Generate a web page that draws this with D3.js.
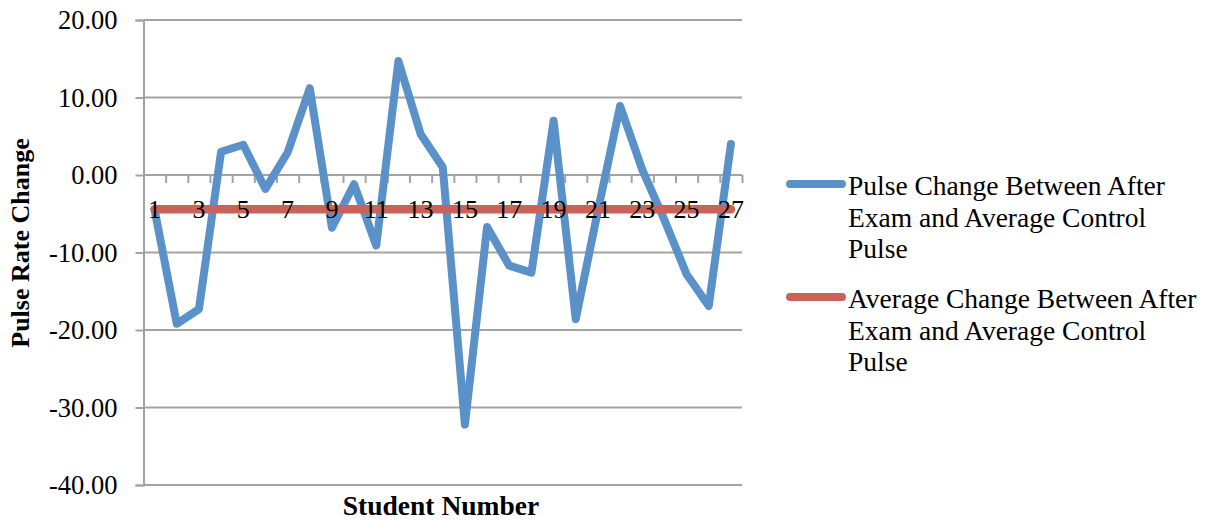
<!DOCTYPE html>
<html>
<head>
<meta charset="utf-8">
<script src="https://cdn.jsdelivr.net/npm/d3@7"></script>
<style>
  html, body { margin: 0; padding: 0; background: #fff; }
  svg { display: block; }
  text { font-family: "Liberation Serif", "DejaVu Serif", serif; fill: #000; }
</style>
</head>
<body>
<svg id="chart" width="1212" height="521"></svg>
<script>
// ---- data ----
const students = [1,2,3,4,5,6,7,8,9,10,11,12,13,14,15,16,17,18,19,20,21,22,23,24,25,26,27];
const pulseChange = [-4.5, -19.2, -17.3, 3.0, 3.9, -1.8, 2.9, 11.2, -6.8, -1.2, -9.1, 14.7, 5.3, 1.0,
                     -32.2, -6.7, -11.7, -12.6, 7.0, -18.6, -4.6, 8.9, 0.7, -5.8, -12.8, -16.9, 4.0];
const averageChange = [-4.42, -4.42, -4.42, -4.42, -4.42, -4.42, -4.42, -4.42, -4.42, -4.42, -4.42, -4.42, -4.42, -4.42,
                       -4.42, -4.42, -4.42, -4.42, -4.42, -4.42, -4.42, -4.42, -4.42, -4.42, -4.42, -4.42, -4.42];
const yTicks = [-40, -30, -20, -10, 0, 10, 20];
const xLabels = [1,3,5,7,9,11,13,15,17,19,21,23,25,27];
const seriesNames = [
  ["Pulse Change Between After", "Exam and Average Control", "Pulse"],
  ["Average Change Between After", "Exam and Average Control", "Pulse"]
];
const yTitle = "Pulse Rate Change";
const xTitle = "Student Number";

// ---- layout ----
const svg = d3.select("#chart");
const plotLeft = 143.5, plotRight = 742, plotTop = 20, plotBottom = 485;
const blue = "#5B91C9", red = "#CB625A", grid = "#A3A3A3";

const x = d3.scaleBand().domain(students).range([plotLeft, plotRight]).padding(0);
const xEdge = d3.scaleLinear().domain([0, students.length]).range([plotLeft, plotRight]);
const y = d3.scaleLinear().domain([-40, 20]).range([plotBottom, plotTop]);
const cx = d => x(d) + x.bandwidth() / 2;
const fmt = d => d.toFixed(2);

// gridlines + y axis
const yAxis = d3.axisLeft(y).tickValues(yTicks).tickSize(8).tickPadding(18).tickFormat(fmt);
const yg = svg.append("g").attr("transform", `translate(${plotLeft},0)`).call(yAxis);
yg.select(".domain").attr("stroke", grid).attr("stroke-width", 2);
yg.selectAll(".tick line").attr("stroke", grid).attr("stroke-width", 2);
yg.selectAll(".tick text").attr("font-size", 26.5).attr("font-family", "Liberation Serif").attr("dy", "0.33em");

svg.append("g").selectAll("line").data(yTicks).join("line")
  .attr("x1", plotLeft).attr("x2", plotRight)
  .attr("y1", d => y(d)).attr("y2", d => y(d))
  .attr("stroke", grid).attr("stroke-width", 2);

// category axis at zero, ticks at boundaries
const xAxis = d3.axisBottom(xEdge).tickValues(d3.range(students.length + 1)).tickSize(8).tickFormat("");
const xg = svg.append("g").attr("transform", `translate(0,${y(0)})`).call(xAxis);
xg.select(".domain").attr("stroke", grid).attr("stroke-width", 2).attr("d", `M${plotLeft},0H${plotRight}`);
xg.selectAll(".tick line").attr("stroke", grid).attr("stroke-width", 2);

// lines
const line = d3.line().x((d, i) => cx(students[i])).y(d => y(d));
svg.append("path").datum(pulseChange).attr("d", line)
  .attr("fill", "none").attr("stroke", blue).attr("stroke-width", 8)
  .attr("stroke-linejoin", "round").attr("stroke-linecap", "round");
svg.append("path").datum(averageChange).attr("d", line)
  .attr("fill", "none").attr("stroke", red).attr("stroke-width", 8.5)
  .attr("stroke-linejoin", "round").attr("stroke-linecap", "round");

// category labels
svg.append("g").selectAll("text").data(xLabels).join("text")
  .attr("x", d => cx(d)).attr("y", 218)
  .attr("text-anchor", "middle").attr("font-size", 26)
  .text(d => d);

// axis titles
svg.append("text")
  .attr("transform", `translate(28.5,243) rotate(-90)`)
  .attr("text-anchor", "middle").attr("font-size", 26).attr("font-weight", "bold")
  .text(yTitle);
svg.append("text")
  .attr("x", 441).attr("y", 515)
  .attr("text-anchor", "middle").attr("font-size", 27.5).attr("font-weight", "bold")
  .text(xTitle);

// legend
const legendColors = [blue, red];
const legendY = [184, 297];
seriesNames.forEach((lines, i) => {
  const g = svg.append("g");
  g.append("line").attr("x1", 790).attr("x2", 842)
    .attr("y1", legendY[i]).attr("y2", legendY[i])
    .attr("stroke", legendColors[i]).attr("stroke-width", 8).attr("stroke-linecap", "round");
  g.selectAll("text").data(lines).join("text")
    .attr("x", 848).attr("y", (d, j) => legendY[i] + 11 + j * 31.7)
    .attr("font-size", 27.5)
    .text(d => d);
});
</script>
</body>
</html>
